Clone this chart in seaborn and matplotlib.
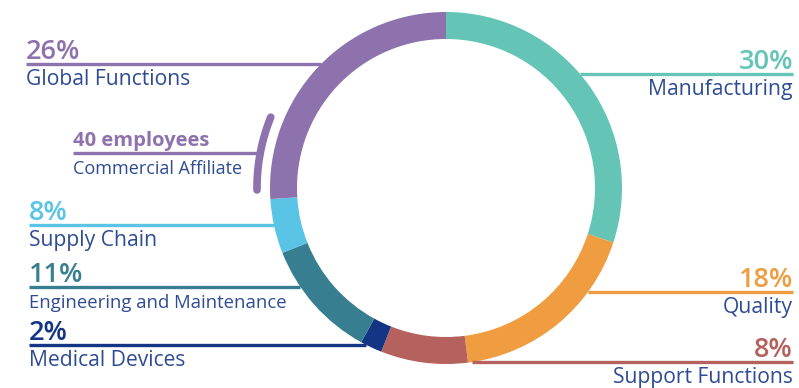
import numpy as np
import matplotlib
matplotlib.use("Agg")
import matplotlib.pyplot as plt
import seaborn as sns

# ---- data ----
categories = ["Manufacturing", "Quality", "Support Functions", "Medical Devices",
              "Engineering and Maintenance", "Supply Chain", "Global Functions"]
pct_labels = ["30%", "18%", "8%", "2%", "11%", "8%", "26%"]
shares = [30, 18, 8, 2, 11, 5, 26]          # arc shares as drawn in the ring
colors = ["#64C5B7", "#F09C40", "#B5615E", "#143484", "#387E91", "#59C4E6", "#8D72AD"]
affiliate_value = "40 employees"
affiliate_name = "Commercial Affiliate"

# ---- layout (pixel coordinates, y from top) ----
W, H = 799, 388
CX, CY, R, RING = 446, 188, 176, 27
NAME_COLOR = "#2E4C93"
# category -> (side, line y, text anchor x, name fontsize)
layout = {
    "Manufacturing": ("right", 74, 793, 15.2),
    "Quality": ("right", 292, 793, 15.2),
    "Support Functions": ("right", 362, 793, 15.2),
    "Medical Devices": ("left", 345, 29, 15.2),
    "Engineering and Maintenance": ("left", 287, 29, 13.3),
    "Supply Chain": ("left", 225, 29, 15.2),
    "Global Functions": ("left", 64, 26, 15.2),
}

sns.set_theme(style="white")
plt.rcParams["font.family"] = ["Open Sans", "DejaVu Sans"]

fig = plt.figure(figsize=(W / 100, H / 100), dpi=100)
ax = fig.add_axes([0, 0, 1, 1])

def Y(y):
    return H - y

ax.pie(shares, colors=colors, startangle=90, counterclock=False,
       radius=R, center=(CX, Y(CY)),
       wedgeprops=dict(width=RING, linewidth=0, antialiased=True))

for cat, pct, col in zip(categories, pct_labels, colors):
    side, ly, tx, nfs = layout[cat]
    dx = np.sqrt(max(R**2 - (ly - CY) ** 2, 0))
    if side == "left":
        x0, x1 = tx, CX - dx
        ha = "left"
    else:
        x0, x1 = CX + dx, tx
        ha = "right"
    ax.plot([x0, x1], [Y(ly), Y(ly)], color=col, lw=2.4, solid_capstyle="butt", zorder=1)
    ax.text(tx, Y(ly - 5), pct, color=col, fontsize=19.5, fontweight="semibold",
            ha=ha, va="baseline")
    ax.text(tx, Y(ly + 21), cat, color=NAME_COLOR, fontsize=nfs,
            ha=ha, va="baseline")

# commercial affiliate arc (concentric, outside Global Functions)
AR = 189
th = np.radians(np.linspace(158, 180.6, 60))
ax.plot(CX + AR * np.cos(th), Y(CY) + AR * np.sin(th), color=colors[6], lw=5.5,
        solid_capstyle="round", zorder=2)
aly = 153
adx = np.sqrt(AR**2 - (aly - CY) ** 2)
ax.plot([73, CX - adx], [Y(aly), Y(aly)], color=colors[6], lw=2.4, solid_capstyle="butt")
ax.text(73, Y(aly - 7), affiliate_value, color=colors[6], fontsize=14.5,
        fontweight="bold", ha="left", va="baseline")
ax.text(73, Y(aly + 21), affiliate_name, color=NAME_COLOR, fontsize=13,
        ha="left", va="baseline")

ax.set_xlim(0, W)
ax.set_ylim(0, H)
ax.set_aspect("auto")
ax.axis("off")
fig.savefig("out.png", dpi=100, facecolor="white")
